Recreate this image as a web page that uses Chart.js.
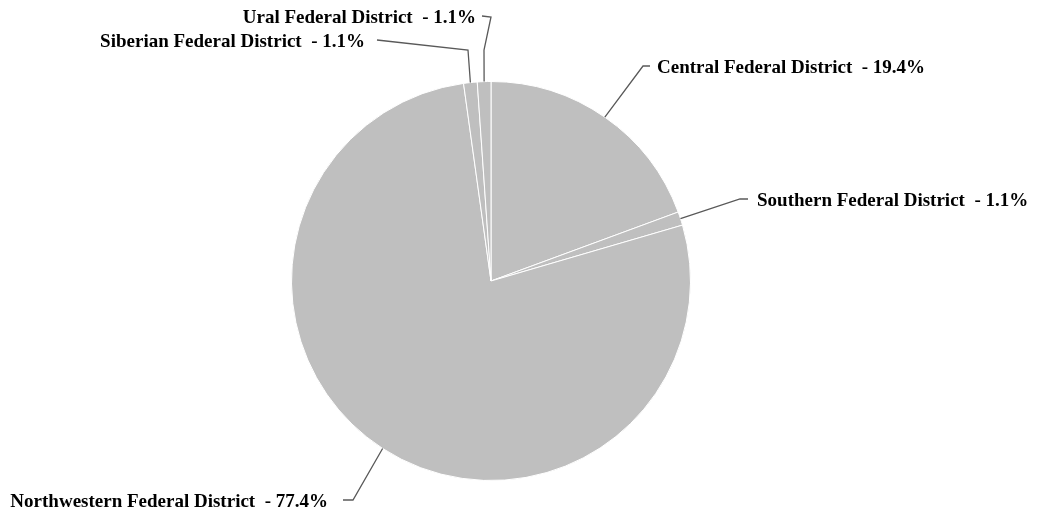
<!DOCTYPE html>
<html>
<head>
<meta charset="utf-8">
<title>Federal Districts</title>
<script src="https://cdn.jsdelivr.net/npm/chart.js"></script>
<style>
  html, body { margin: 0; padding: 0; background: #fff; }
  #wrap { width: 1037px; height: 516px; position: relative; }
</style>
</head>
<body>
<div id="wrap"><canvas id="districtChart"></canvas></div>

<script>
    const districts = ['Central Federal District', 'Southern Federal District', 'Northwestern Federal District',
                       'Siberian Federal District', 'Ural Federal District'];
    const shares = [19.4, 1.1, 77.4, 1.1, 1.1];

    // leader line layout per slice: anchor angle on rim (deg from 12 o'clock, null = slice middle),
    // bend points relative to pie centre, text gap (negative = text on the left)
    const leaders = [
        { angle: 34.8, pts: [[152, -215], [159, -215]], gap: 7 },
        { angle: null, pts: [[249, -82], [257, -82]], gap: 9 },
        { angle: null, pts: [[-138, 219], [-148, 219]], gap: -15 },
        { angle: null, pts: [[-23, -231], [-114, -241]], gap: -12 },
        { angle: null, pts: [[-7, -231], [0, -264], [-9, -265]], gap: -6 }
    ];

    const leaderLabels = {
        id: 'leaderLabels',
        afterDatasetsDraw(chart) {
            const ctx = chart.ctx;
            const arcs = chart.getDatasetMeta(0).data;
            ctx.save();
            ctx.strokeStyle = '#595959';
            ctx.lineWidth = 1.3;
            ctx.fillStyle = '#000';
            ctx.font = 'bold 19px "Liberation Serif", "Times New Roman", serif';
            ctx.textBaseline = 'middle';
            arcs.forEach((arc, i) => {
                const p = arc.getProps(['x', 'y', 'startAngle', 'endAngle', 'outerRadius'], true);
                const lay = leaders[i];
                const a = lay.angle === null
                    ? (p.startAngle + p.endAngle) / 2
                    : lay.angle * Math.PI / 180 - Math.PI / 2;
                const ax = p.x + Math.cos(a) * p.outerRadius;
                const ay = p.y + Math.sin(a) * p.outerRadius;
                ctx.beginPath();
                ctx.moveTo(ax, ay);
                lay.pts.forEach(([dx, dy]) => ctx.lineTo(p.x + dx, p.y + dy));
                ctx.stroke();
                const last = lay.pts[lay.pts.length - 1];
                const tx = p.x + last[0] + lay.gap;
                const ty = p.y + last[1] + 2;
                ctx.textAlign = lay.gap > 0 ? 'left' : 'right';
                ctx.fillText(districts[i] + '  - ' + shares[i].toFixed(1) + '%', tx, ty);
            });
            ctx.restore();
        }
    };

    new Chart(document.getElementById('districtChart'), {
        type: 'pie',
        data: {
            labels: districts,
            datasets: [{
                data: shares,
                backgroundColor: '#bfbfbf',
                borderColor: '#ffffff',
                borderWidth: 1
            }]
        },
        options: {
            responsive: true,
            maintainAspectRatio: false,
            animation: false,
            layout: { padding: { left: 0, right: 55, top: 81, bottom: 35 } },
            plugins: {
                legend: { display: false },
                tooltip: { enabled: false }
            }
        },
        plugins: [leaderLabels]
    });
</script>
</body>
</html>
